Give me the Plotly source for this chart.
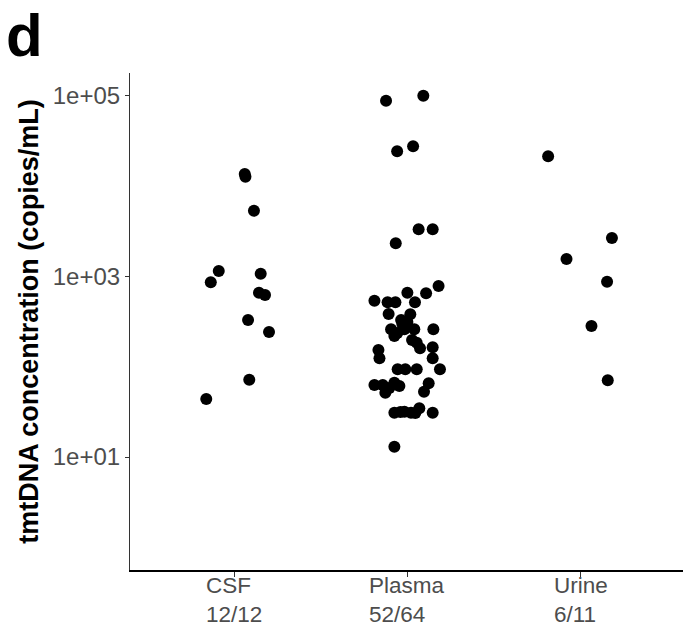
import plotly.graph_objects as go

# Sample groups and detection counts (positive / tested)
categories = ["CSF", "Plasma", "Urine"]
detected = ["12/12", "52/64", "6/11"]

# tmtDNA concentration (copies/mL) per positive sample
csf_values = [13550, 12650, 5320, 1145, 859, 1069, 659, 621, 328, 242, 71.8, 43.9]
plasma_values = [
    87700, 99700, 24190, 27480, 3311, 3311, 2317,
    782, 649, 659, 537, 515, 515, 515, 383, 380, 329,
    259, 259, 259, 259, 218, 197, 184, 160, 164, 153,
    124, 124, 93.5, 93.5, 93.5, 93.5, 62.7, 62.7, 66.5,
    61.1, 51.5, 65.5, 52.8, 31.0, 31.8, 31.0, 34.6, 31.0,
    13.0, 296, 312, 58.1, 30.7, 31.5, 236,
]
urine_values = [21300, 2655, 1555, 871, 282, 70.6]

# Horizontal jitter applied to each point within its group
csf_jitter = [0.062, 0.066, 0.115, -0.088, -0.134, 0.154, 0.144, 0.179,
              0.081, 0.202, 0.088, -0.160]
plasma_jitter = [
    -0.123, 0.092, -0.059, 0.033, 0.065, 0.146, -0.067,
    0.180, 0.108, 0.000, -0.190, -0.114, -0.069, 0.044, -0.108, 0.017, -0.036,
    0.150, -0.094, -0.017, 0.040, -0.075, 0.027, 0.054, 0.073, 0.146, -0.167,
    -0.161, 0.146, -0.056, -0.012, 0.054, 0.188, -0.190, -0.142, -0.075,
    -0.046, -0.127, 0.123, 0.096, -0.075, -0.017, 0.021, 0.069, 0.146,
    -0.075, -0.029, 0.000, -0.104, 0.046, -0.040, -0.058,
]
urine_jitter = [-0.188, 0.180, -0.082, 0.152, 0.062, 0.156]

y_tick_values = [10, 1000, 100000]
y_tick_labels = ["1e+01", "1e+03", "1e+05"]

groups = [
    (csf_values, csf_jitter),
    (plasma_values, plasma_jitter),
    (urine_values, urine_jitter),
]

FONT = "Liberation Sans, Arial, Helvetica, sans-serif"
GREY = "#4d4d4d"

fig = go.Figure()
for i, (vals, jit) in enumerate(groups, start=1):
    fig.add_trace(go.Scatter(
        x=[i + j for j in jit],
        y=vals,
        mode="markers",
        marker=dict(color="black", size=12, line=dict(width=0)),
        showlegend=False,
        hoverinfo="y",
    ))

# Two-line category labels (name + detection count), left-aligned lines
for i, (cat, cnt) in enumerate(zip(categories, detected), start=1):
    fig.add_annotation(
        x=i, xref="x", y=-0.003, yref="paper",
        text=f"{cat}<br>{cnt}", showarrow=False,
        xanchor="center", yanchor="top", align="left",
        font=dict(family=FONT, size=22.5, color=GREY),
    )

# Panel letter
fig.add_annotation(
    x=-0.228, xref="paper", y=1.076, yref="paper",
    text="<b>d</b>", showarrow=False, xanchor="left", yanchor="middle",
    font=dict(family=FONT, size=60, color="black"),
)

fig.update_layout(
    width=683, height=630,
    margin=dict(l=130, r=0, t=73, b=60),
    paper_bgcolor="white", plot_bgcolor="white",
    font=dict(family=FONT),
    xaxis=dict(
        range=[0.4, 3.59], tickvals=[1, 2, 3], showticklabels=False,
        showgrid=False, zeroline=False,
        showline=True, linecolor="black", linewidth=1.6,
        ticks="outside", ticklen=5, tickcolor="#333333", tickwidth=1.2,
    ),
    yaxis=dict(
        type="log", range=[-0.25, 5.25],
        tickvals=y_tick_values, ticktext=y_tick_labels,
        showgrid=False, zeroline=False,
        showline=True, linecolor="#333333", linewidth=1.1,
        ticks="outside", ticklen=4, tickcolor="#333333", tickwidth=1.2,
        tickfont=dict(family=FONT, size=24, color=GREY),
        title=dict(text="<b>tmtDNA concentration (copies/mL)</b>",
                   font=dict(family=FONT, size=27, color="black"),
                   standoff=6),
    ),
)

fig.write_html("out.html")
